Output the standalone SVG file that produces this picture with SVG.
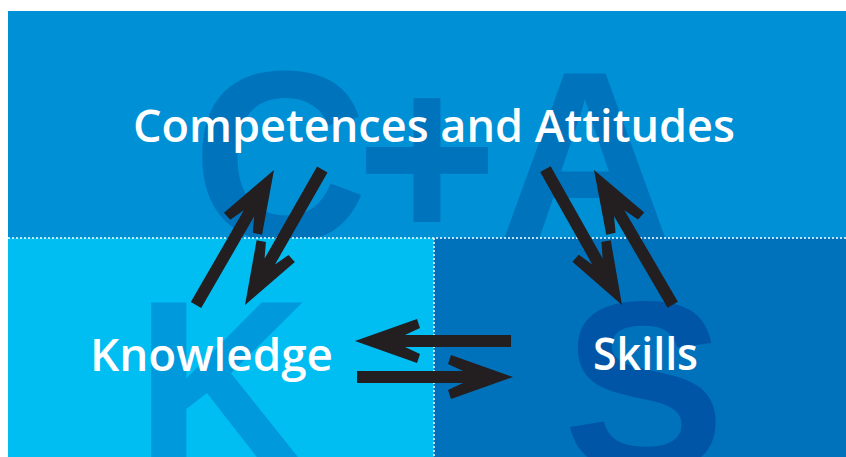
<svg xmlns="http://www.w3.org/2000/svg" xmlns:xlink="http://www.w3.org/1999/xlink" width="846" height="457" viewBox="0 0 846 457">
  <style>
    .label { font-family: "Open Sans", "Liberation Sans", Arial, sans-serif; font-weight: 600; font-size: 45px; fill: #ffffff; }
    .big { font-family: "Liberation Sans", Arial, sans-serif; font-weight: bold; font-size: 243px; }
    .dots { stroke: #ffffff; stroke-width: 1.5; stroke-dasharray: 2 2; fill: none; }
    .arrow { fill: #231F20; }
  </style>
  <defs>
    <clipPath id="clipTop"><rect x="8" y="11" width="838" height="227"/></clipPath>
    <clipPath id="clipBL"><rect x="8" y="238" width="426" height="219"/></clipPath>
    <clipPath id="clipBR"><rect x="434" y="238" width="412" height="219"/></clipPath>
    <path id="arrow" d="M0,0 L-62,-22 L-65,-13 L-50,-6 L-156,-6 L-156,6 L-50,6 L-65,13 L-62,22 Z"/>
  </defs>

  <rect width="846" height="457" fill="#ffffff"/>

  <g id="competences-attitudes">
    <rect x="8" y="11" width="838" height="227" fill="#0090D6"/>
    <g clip-path="url(#clipTop)">
      <text class="big" x="280" y="241" text-anchor="middle" fill="#0073BD">C</text>
      <text class="big" x="427" y="241" text-anchor="middle" fill="#0073BD">+</text>
      <text class="big" x="585" y="241" text-anchor="middle" fill="#0073BD">A</text>
    </g>
    <text class="label" x="133" y="142" textLength="602" lengthAdjust="spacingAndGlyphs">Competences and Attitudes</text>
  </g>

  <g id="knowledge">
    <rect x="8" y="238" width="426" height="219" fill="#00BDF2"/>
    <g clip-path="url(#clipBL)">
      <text class="big" x="135" y="470" fill="#0099DB">K</text>
    </g>
    <text class="label" x="90" y="371" textLength="243" lengthAdjust="spacingAndGlyphs">Knowledge</text>
  </g>

  <g id="skills">
    <rect x="434" y="238" width="412" height="219" fill="#0072BC"/>
    <g clip-path="url(#clipBR)">
      <text class="big" x="644" y="471" text-anchor="middle" fill="#0055A6">S</text>
    </g>
    <text class="label" x="593" y="370" textLength="105" lengthAdjust="spacingAndGlyphs">Skills</text>
  </g>

  <g id="dividers">
    <line class="dots" x1="8" y1="238" x2="846" y2="238"/>
    <line class="dots" x1="434" y1="238" x2="434" y2="457"/>
  </g>

  <g id="connectors" class="arrow">
    <use xlink:href="#arrow" href="#arrow" transform="translate(274,170) rotate(-60)"/>
    <use xlink:href="#arrow" href="#arrow" transform="translate(245,305) rotate(119.7)"/>
    <use xlink:href="#arrow" href="#arrow" transform="translate(622,305) rotate(60.6)"/>
    <use xlink:href="#arrow" href="#arrow" transform="translate(594,170) rotate(-120.3)"/>
    <use xlink:href="#arrow" href="#arrow" transform="translate(355,341) rotate(180)"/>
    <use xlink:href="#arrow" href="#arrow" transform="translate(513,377)"/>
  </g>
</svg>
